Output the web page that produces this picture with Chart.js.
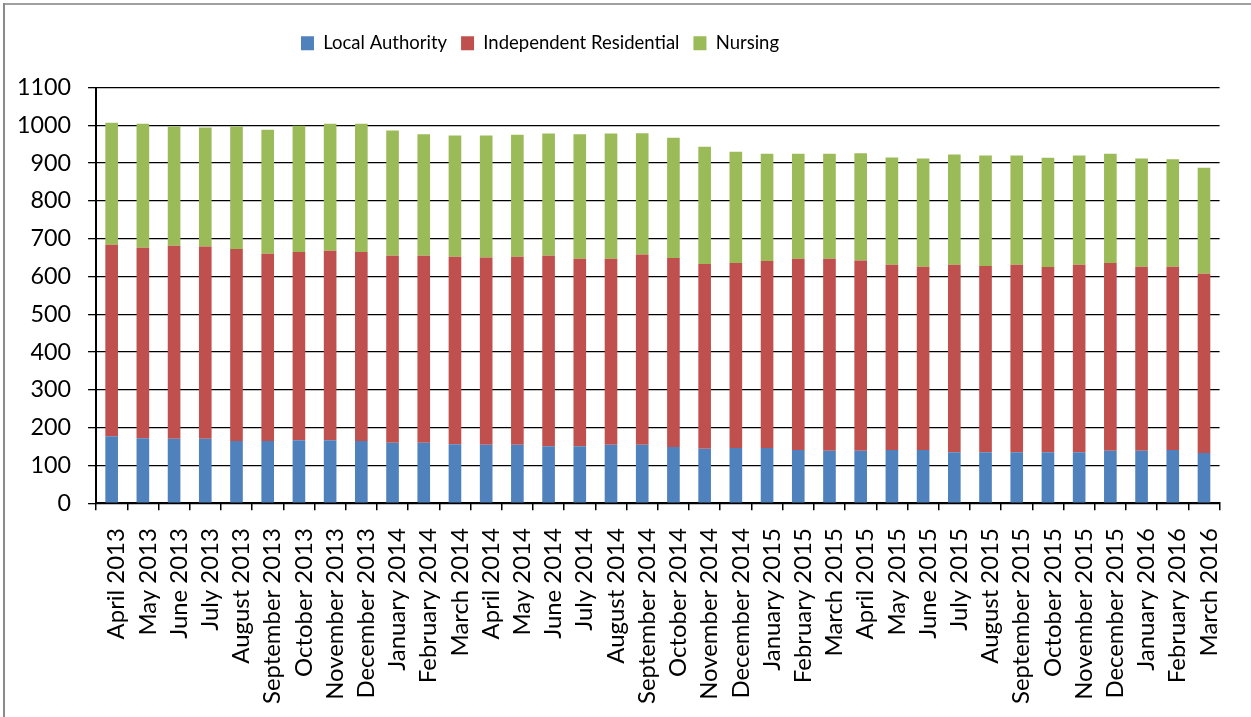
<!DOCTYPE html>
<html>
<head>
<meta charset="utf-8">
<script src="https://cdn.jsdelivr.net/npm/chart.js@4/dist/chart.umd.min.js"></script>
<style>
html,body{margin:0;padding:0;background:#fff;}
#wrap{width:1251px;height:717px;position:relative;}
canvas{display:block;}
</style>
</head>
<body>
<div id="wrap"><canvas id="c" width="1251" height="717"></canvas></div>
<script>
const categories = ['April 2013','May 2013','June 2013','July 2013','August 2013','September 2013','October 2013','November 2013','December 2013','January 2014','February 2014','March 2014','April 2014','May 2014','June 2014','July 2014','August 2014','September 2014','October 2014','November 2014','December 2014','January 2015','February 2015','March 2015','April 2015','May 2015','June 2015','July 2015','August 2015','September 2015','October 2015','November 2015','December 2015','January 2016','February 2016','March 2016'];
const localAuthority = [177,172,171,171,165,165,167,167,165,160,160,156,155,155,151,151,155,155,149,144,146,146,141,139,139,141,141,135,135,135,135,135,139,139,141,133];
const independentResidential = [507,504,510,508,508,495,498,501,500,495,495,496,495,497,504,496,492,503,500,489,490,495,506,508,503,490,485,496,493,496,490,496,497,487,485,474];
const nursing = [323,328,316,315,324,328,334,336,339,331,321,321,323,323,323,329,331,321,318,310,294,284,278,278,284,284,286,292,292,289,289,289,289,286,284,281];
const yTicks = {min:0, max:1100, step:100};

const FONT = "Lato, 'Open Sans', sans-serif";
const LEGEND_CENTER_X = 540;
const LEGEND_EXTRA = 25;
const X_FIT_TRIM = 8;

const frame = {
  id:'frame',
  beforeDraw(chart){
    const ctx = chart.ctx;
    ctx.save();
    ctx.fillStyle = '#fff';
    ctx.fillRect(0,0,chart.width,chart.height);
    ctx.fillStyle = '#a0a0a0';
    ctx.fillRect(3,3,chart.width-3,2);
    ctx.fillStyle = '#8a8a8a';
    ctx.fillRect(3,3,2,chart.height-3);
    ctx.restore();
  }
};
const legendTweak = {
  id:'legendTweak',
  beforeInit(chart){
    const lg = chart.legend;
    if (lg){
      const fit = lg.fit;
      lg.fit = function(){ fit.call(this); this.height += LEGEND_EXTRA; };
    }
  },
  afterLayout(chart){
    const lg = chart.legend;
    if (lg){
      const shift = (lg.left + lg.right)/2 - LEGEND_CENTER_X;
      lg.left -= shift; lg.right -= shift;
    }
  }
};

new Chart(document.getElementById('c'), {
  type:'bar',
  data:{
    labels:categories,
    datasets:[
      {label:'Local Authority', data:localAuthority, backgroundColor:'#4F81BD'},
      {label:'Independent Residential', data:independentResidential, backgroundColor:'#C0504D'},
      {label:'Nursing', data:nursing, backgroundColor:'#9BBB59'}
    ]
  },
  plugins:[frame, legendTweak],
  options:{
    responsive:false,
    animation:false,
    devicePixelRatio:1,
    datasets:{bar:{categoryPercentage:1, barPercentage:0.405}},
    layout:{padding:{left:0,right:24,top:20,bottom:3}},
    plugins:{
      legend:{
        position:'top',
        labels:{boxWidth:13, boxHeight:14, padding:14, color:'#000', font:{family:FONT, size:18.5}}
      },
      tooltip:{enabled:false}
    },
    scales:{
      x:{
        stacked:true,
        grid:{offset:true, drawOnChartArea:false, drawTicks:true, tickLength:7, color:'#000', lineWidth:1.5},
        border:{color:'#000', width:2},
        ticks:{color:'#000', font:{family:FONT, size:23.9}, maxRotation:90, minRotation:90, autoSkip:false, padding:18, labelOffset:5},
        afterFit(scale){ scale.height -= X_FIT_TRIM; }
      },
      y:{
        stacked:true,
        min:yTicks.min, max:yTicks.max,
        ticks:{stepSize:yTicks.step, color:'#000', font:{family:FONT, size:23.3}, padding:17, callback:v => String(v)},
        grid:{color:'#000', lineWidth:1.3, tickLength:8},
        border:{color:'#000', width:2}
      }
    }
  }
});
</script>
</body>
</html>
